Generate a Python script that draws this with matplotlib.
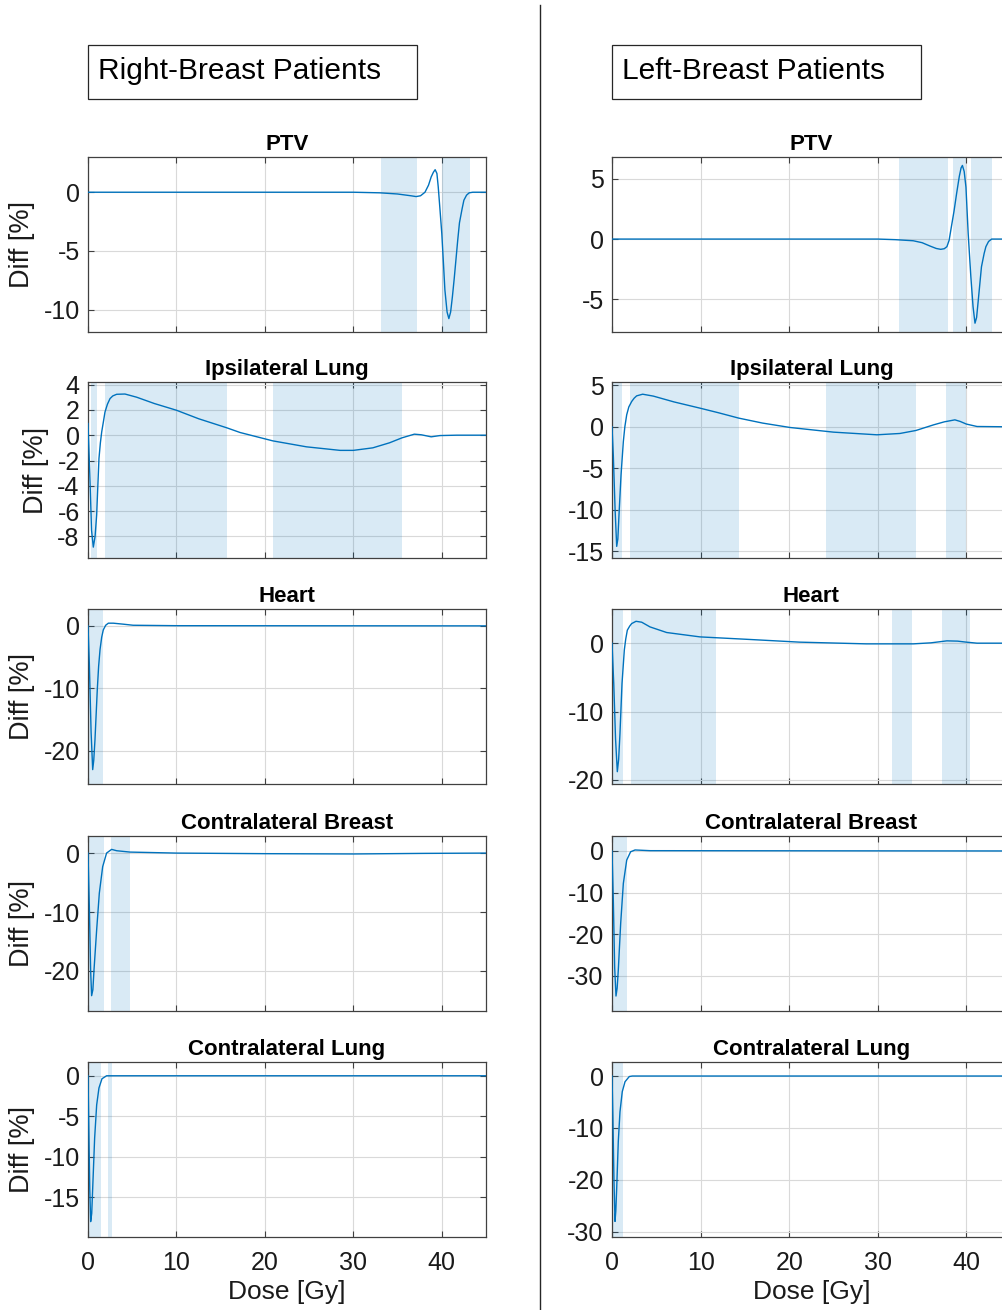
import matplotlib
matplotlib.use("Agg")
import matplotlib.pyplot as plt
from matplotlib.patches import Rectangle
from matplotlib.lines import Line2D

plt.rcParams['font.family'] = ['Liberation Sans', 'DejaVu Sans']

# ---------------- data ----------------
titles = ["PTV", "Ipsilateral Lung", "Heart", "Contralateral Breast", "Contralateral Lung"]
col_titles = ["Right-Breast Patients", "Left-Breast Patients"]
x_ticks = [0, 10, 20, 30, 40]

# Right-breast (left column)
L_PTV_x = [0, 30, 33, 35, 36.5, 37.1, 37.6, 38.1, 38.5, 38.8, 39.05, 39.25, 39.45, 39.6, 39.8, 40.0,
           40.2, 40.35, 40.6, 40.8, 41.0, 41.2, 41.4, 41.6, 41.8, 42.0, 42.3, 42.5, 42.8, 43.1, 43.5, 45]
L_PTV_y = [0, 0, -0.05, -0.15, -0.3, -0.37, -0.3, 0.0, 0.6, 1.3, 1.7, 1.92, 1.6, 0.45, -1.5, -3.5,
           -6.2, -8.3, -10.2, -10.76, -10.2, -8.9, -7.4, -5.76, -4.1, -2.6, -1.4, -0.68, -0.25, -0.05, 0, 0]
L_IPSI_x = [0, 0.2, 0.4, 0.6, 0.8, 0.98, 1.1, 1.24, 1.4, 1.55, 1.75, 1.92, 2.2, 2.49, 2.8, 3.24, 4.18,
            5.5, 7.5, 10.0, 12.5, 15.7, 17.2, 20.9, 24.7, 28.5, 30.0, 32.2, 34.1, 35.5, 36.9, 37.7,
            38.8, 39.8, 41.7, 45]
L_IPSI_y = [0.92, -3.0, -7.5, -8.84, -8.0, -6.3, -4.2, -1.84, -0.6, 0.26, 1.1, 1.83, 2.45, 2.89, 3.1,
            3.23, 3.25, 3.0, 2.5, 1.97, 1.3, 0.58, 0.21, -0.45, -0.92, -1.2, -1.2, -1.0, -0.6, -0.21,
            0.08, 0.03, -0.13, -0.03, 0, 0]
L_HEART_x = [0, 0.15, 0.35, 0.53, 0.65, 0.79, 1.05, 1.2, 1.36, 1.55, 1.73, 2.0, 2.3, 2.86, 4.0, 5.1, 10, 45]
L_HEART_y = [0, -6, -17, -23, -21.5, -18.2, -10.2, -6.5, -3.8, -1.8, -0.64, 0.1, 0.43, 0.43, 0.27, 0.1, 0.03, 0]
L_CB_x = [0, 0.15, 0.3, 0.41, 0.55, 0.68, 0.98, 1.28, 1.66, 2.1, 2.67, 3.24, 4.75, 10, 20, 30, 38, 45]
L_CB_y = [0, -9, -20, -24.2, -23.2, -19.8, -13, -6.8, -2.3, 0, 0.63, 0.4, 0.17, 0.0, -0.1, -0.15, -0.05, 0]
L_CL_x = [0, 0.1, 0.2, 0.3, 0.42, 0.53, 0.75, 0.98, 1.24, 1.58, 2.1, 45]
L_CL_y = [0, -7, -14, -18, -17, -13.9, -7.7, -3.6, -1.5, -0.37, 0, 0]

# Left-breast (right column)
R_PTV_x = [0, 30, 32, 34.0, 35.0, 35.9, 36.6, 37.1, 37.5, 37.8, 38.05, 38.3, 38.6, 38.9, 39.2, 39.4,
           39.55, 39.75, 39.95, 40.2, 40.5, 40.75, 40.97, 41.15, 41.35, 41.7, 42.0, 42.2, 42.5, 42.85, 45]
R_PTV_y = [0, 0, -0.05, -0.14, -0.3, -0.58, -0.78, -0.85, -0.8, -0.63, -0.1, 1.0, 2.3, 3.8, 5.2, 5.9,
           6.1, 5.6, 4.3, 0.47, -3.1, -5.6, -6.97, -6.5, -5.0, -2.3, -1.2, -0.63, -0.2, 0, 0]
R_IPSI_x = [0, 0.15, 0.35, 0.53, 0.66, 0.79, 1.02, 1.28, 1.45, 1.66, 1.9, 2.22, 2.5, 2.78, 3.46, 4.67,
            7.0, 9.93, 12.0, 14.3, 17.0, 20.1, 25.0, 29.9, 32.5, 34.3, 36.3, 37.5, 38.7, 39.3, 40.0, 41.2, 45]
R_IPSI_y = [0, -3.5, -10.0, -14.4, -13.5, -10.6, -5.8, -1.77, 0.0, 1.45, 2.4, 3.05, 3.45, 3.73, 3.93,
            3.7, 3.0, 2.25, 1.7, 1.05, 0.45, -0.08, -0.64, -0.96, -0.8, -0.44, 0.24, 0.6, 0.84, 0.65,
            0.33, 0.04, 0]
R_HEART_x = [0, 0.2, 0.4, 0.6, 0.75, 0.9, 1.13, 1.39, 1.55, 1.73, 2.0, 2.22, 2.71, 3.35, 4.29, 6.17,
             9.93, 15.6, 21.2, 28.7, 34.0, 36.0, 37.8, 39.0, 40.0, 41.2, 45]
R_HEART_y = [0, -6, -14, -18.8, -17, -13.2, -5.9, -1.0, 0.6, 1.9, 2.5, 2.87, 3.2, 3.07, 2.38, 1.56,
             0.92, 0.54, 0.15, -0.1, -0.1, 0.05, 0.34, 0.3, 0.15, 0.0, 0]
R_CB_x = [0, 0.15, 0.3, 0.45, 0.58, 0.71, 0.98, 1.28, 1.66, 2.1, 2.6, 4.3, 45]
R_CB_y = [0, -12, -28, -34.9, -33, -28.7, -17.4, -7.8, -2.2, -0.2, 0.24, 0.07, 0]
R_CL_x = [0, 0.1, 0.22, 0.34, 0.43, 0.53, 0.71, 0.9, 1.16, 1.47, 1.95, 2.3, 45]
R_CL_y = [0, -8, -20, -28, -26, -21.6, -12.6, -6.9, -3.0, -1.1, -0.1, 0, 0]

# significance bands (Gy)
L_bands = [[(33.1, 37.2), (40.0, 43.2)],
           [(0.34, 1.05), (1.96, 15.7), (20.9, 35.5)],
           [(0, 1.73)],
           [(0, 1.8), (2.6, 4.8)],
           [(0, 1.5), (2.26, 2.7)]]
R_bands = [[(32.4, 37.9), (38.5, 40.0), (40.5, 42.85)],
           [(0.15, 1.13), (2.0, 14.3), (24.1, 34.3), (37.7, 40.0)],
           [(0.15, 1.2), (2.14, 11.7), (31.6, 33.9), (37.3, 40.4)],
           [(0, 1.66)],
           [(0, 1.2)]]

L_ylim = [(-11.9, 3.0), (-9.7, 4.2), (-25.3, 2.7), (-26.8, 2.9), (-19.9, 1.7)]
R_ylim = [(-7.7, 6.8), (-15.8, 5.4), (-20.6, 5.0), (-38.5, 3.6), (-31.0, 2.7)]
L_yticks = [[-10, -5, 0], [-8, -6, -4, -2, 0, 2, 4], [-20, -10, 0], [-20, -10, 0], [-15, -10, -5, 0]]
R_yticks = [[-5, 0, 5], [-15, -10, -5, 0, 5], [-20, -10, 0], [-30, -20, -10, 0], [-30, -20, -10, 0]]

L_data = [(L_PTV_x, L_PTV_y), (L_IPSI_x, L_IPSI_y), (L_HEART_x, L_HEART_y), (L_CB_x, L_CB_y), (L_CL_x, L_CL_y)]
R_data = [(R_PTV_x, R_PTV_y), (R_IPSI_x, R_IPSI_y), (R_HEART_x, R_HEART_y), (R_CB_x, R_CB_y), (R_CL_x, R_CL_y)]

# ---------------- layout ----------------
W, H = 1002, 1310
fig = plt.figure(figsize=(W / 100, H / 100), dpi=100)

rows_px = [(157, 332), (382, 558), (609, 784), (836, 1011), (1062, 1237)]
cols_px = [(88, 486), (612, 612 + 45 * 8.86)]

LINE = '#0072BD'
AX = '#404040'
TXT = '#1a1a1a'

def make_ax(col, row, data, bands, ylim, yticks, ylabel):
    x0, x1 = cols_px[col]
    t, b = rows_px[row]
    ax = fig.add_axes([x0 / W, 1 - b / H, (x1 - x0) / W, (b - t) / H])
    for s, e in bands:
        ax.axvspan(s, e, color=LINE, alpha=0.15, lw=0, zorder=1)
    ax.plot(data[0], data[1], color=LINE, lw=1.0, zorder=3)
    ax.set_xlim(0, 45)
    ax.set_ylim(*ylim)
    ax.set_xticks(x_ticks)
    ax.set_yticks(yticks)
    ax.set_yticklabels([str(v) for v in yticks])
    ax.grid(True, color='#d9d9d9', lw=0.8, zorder=0)
    ax.set_axisbelow(True)
    for sp in ax.spines.values():
        sp.set_color(AX)
        sp.set_linewidth(0.9)
    ax.tick_params(direction='in', length=4, width=0.8, color=AX, top=True, right=True,
                   labelsize=18, labelcolor=TXT)
    ax.tick_params(axis='y', pad=6)
    ax.tick_params(axis='x', pad=10)
    if row < 4:
        ax.set_xticklabels([])
    else:
        ax.set_xlabel('Dose [Gy]', fontsize=19, color=TXT, labelpad=4)
    if ylabel:
        ax.set_ylabel('Diff [%]', fontsize=19.5, color=TXT, labelpad=6)
    ax.set_title(titles[row], fontsize=16, fontweight='bold', color='black', pad=5)
    return ax

for r in range(5):
    make_ax(0, r, L_data[r], L_bands[r], L_ylim[r], L_yticks[r], True)
    make_ax(1, r, R_data[r], R_bands[r], R_ylim[r], R_yticks[r], False)

# column header boxes
for (bx0, bx1), label in zip([(88, 417), (612, 921)], col_titles):
    fig.add_artist(Rectangle((bx0 / W, 1 - 99 / H), (bx1 - bx0) / W, 54 / H,
                             transform=fig.transFigure, fill=False, ec='#262626', lw=0.9))
    fig.text((bx0 + 10) / W, 1 - 71 / H, label, fontsize=21.5, color='black',
             ha='left', va='center')

# divider
fig.add_artist(Line2D([540 / W, 540 / W], [0, 1 - 5 / H], transform=fig.transFigure,
                      color='#262626', lw=1.0))

fig.savefig('out.png', dpi=100)
